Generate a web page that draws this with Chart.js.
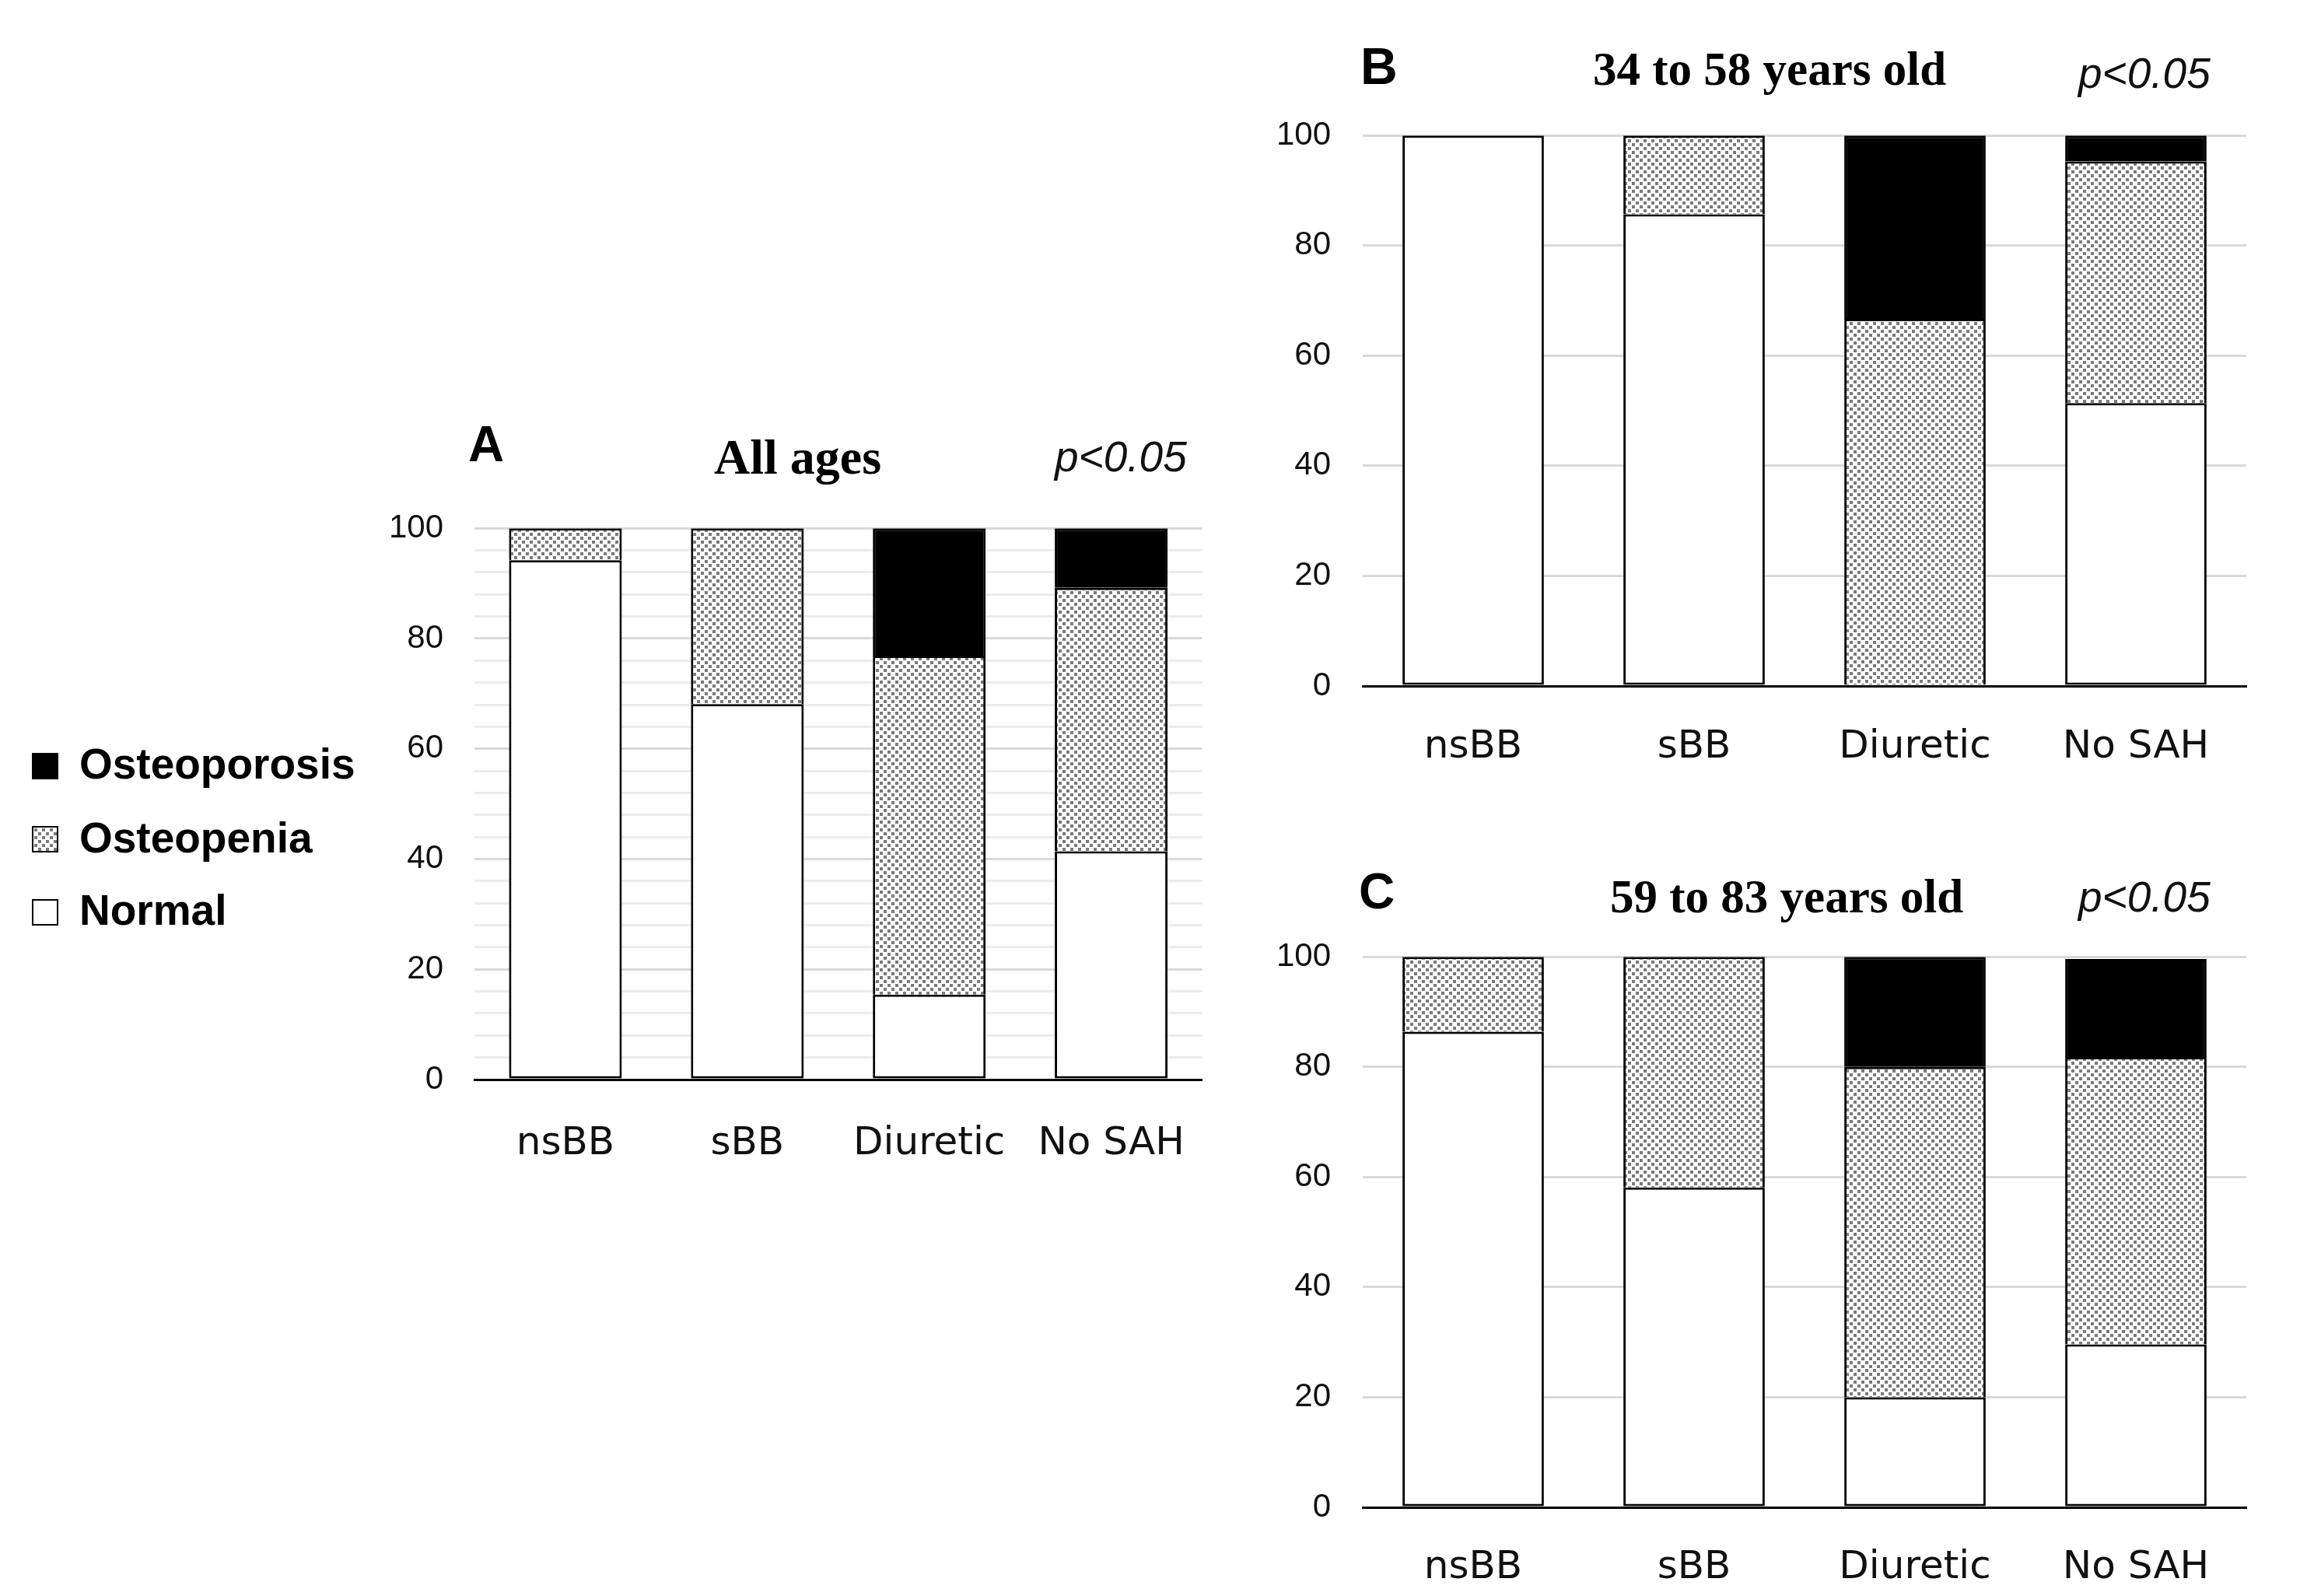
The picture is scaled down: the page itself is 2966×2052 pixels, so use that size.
<!DOCTYPE html>
<html>
<head>
<meta charset="utf-8">
<script src="https://cdn.jsdelivr.net/npm/chart.js@4.4.1/dist/chart.umd.min.js"></script>
<style>
  html, body { margin:0; padding:0; background:#fff; }
  body { width:2966px; height:2052px; position:relative; overflow:hidden; }
  canvas { position:absolute; }
  .t { position:absolute; white-space:nowrap; color:#000; line-height:1; }
  .letter { font-family:"Liberation Sans", Arial, sans-serif; font-weight:bold; }
  .title { font-family:"Liberation Serif", "Times New Roman", serif; font-weight:bold; }
  .pval { font-family:"Liberation Sans", Arial, sans-serif; font-style:italic; color:#111; }
  .leg { font-family:"Liberation Sans", Arial, sans-serif; font-weight:bold; font-size:55px; }
  .sw { position:absolute; width:34px; height:34px; box-sizing:border-box; border:2px solid #000; }
</style>
</head>
<body>
<!-- legend -->
<div class="sw" id="swOp" style="left:41px; top:968px; background:#000;"></div>
<div class="t leg" style="left:102px; top:955px;">Osteoporosis</div>
<div class="sw" id="swPen" style="left:41px; top:1062px;"></div>
<div class="t leg" style="left:102px; top:1050px;">Osteopenia</div>
<div class="sw" id="swNor" style="left:41px; top:1156px; background:#fff;"></div>
<div class="t leg" style="left:102px; top:1143px;">Normal</div>

<!-- panel texts -->
<div class="t letter" style="left:602px; top:539px; font-size:64px;">A</div>
<div class="t title" style="left:918px; top:556px; font-size:64px;">All ages</div>
<div class="t pval" style="left:1356px; top:560px; font-size:55px;">p&lt;0.05</div>

<div class="t letter" style="left:1749px; top:52px; font-size:66px;">B</div>
<div class="t title" style="left:2048px; top:58px; font-size:61px;">34 to 58 years old</div>
<div class="t pval" style="left:2672px; top:67px; font-size:55px;">p&lt;0.05</div>

<div class="t letter" style="left:1747px; top:1114px; font-size:64px;">C</div>
<div class="t title" style="left:2070px; top:1122px; font-size:61px;">59 to 83 years old</div>
<div class="t pval" style="left:2672px; top:1126px; font-size:55px;">p&lt;0.05</div>

<canvas id="cA" width="1117" height="884" style="left:460px; top:614px;"></canvas>
<canvas id="cB" width="1296" height="884" style="left:1602px; top:108px;"></canvas>
<canvas id="cC" width="1296" height="884" style="left:1602px; top:1164px;"></canvas>

<script>
// ---------------- DATA ----------------
const categories = ['nsBB', 'sBB', 'Diuretic', 'No SAH'];
const seriesNames = ['Normal', 'Osteopenia', 'Osteoporosis'];
const yTickLabels = [0, 20, 40, 60, 80, 100];

// Panel A: All ages
const normalA       = [94.2, 68.1, 15.4, 41.4];
const osteopeniaA   = [5.8, 31.9, 61.5, 47.8];
const osteoporosisA = [0, 0, 23.1, 10.8];

// Panel B: 34 to 58 years old
const normalB       = [100, 85.7, 0, 51.4];
const osteopeniaB   = [0, 14.3, 66.7, 43.9];
const osteoporosisB = [0, 0, 33.3, 4.7];

// Panel C: 59 to 83 years old
const normalC       = [86.4, 58.1, 20.0, 29.6];
const osteopeniaC   = [13.6, 41.9, 60.0, 52.2];
const osteoporosisC = [0, 0, 20.0, 17.8];

// ---------------- STYLE HELPERS ----------------
function makeDotTile() {
  const t = document.createElement('canvas');
  t.width = 10; t.height = 10;
  const g = t.getContext('2d');
  g.fillStyle = '#ffffff';
  g.fillRect(0, 0, 10, 10);
  g.fillStyle = '#7a7a7a';
  g.fillRect(1, 1, 4, 4);
  g.fillRect(6, 6, 4, 4);
  return t;
}
const dotTile = makeDotTile();
const dotPattern = document.createElement('canvas').getContext('2d').createPattern(dotTile, 'repeat');
document.getElementById('swPen').style.background = 'url(' + dotTile.toDataURL() + ') repeat';

function buildChart(id, normal, osteopenia, osteoporosis, cfg) {
  const sideBorder = {top: 3, left: 3, right: 3, bottom: 0};
  return new Chart(document.getElementById(id), {
    type: 'bar',
    data: {
      labels: categories,
      datasets: [
        { label: seriesNames[0], data: normal, backgroundColor: '#ffffff', borderColor: '#000000',
          borderWidth: 3, borderSkipped: false, stack: 's' },
        { label: seriesNames[1], data: osteopenia, backgroundColor: dotPattern, borderColor: '#000000',
          borderWidth: sideBorder, borderSkipped: false, stack: 's' },
        { label: seriesNames[2], data: osteoporosis, backgroundColor: '#000000', borderColor: '#000000',
          borderWidth: sideBorder, borderSkipped: false, stack: 's' }
      ]
    },
    options: {
      responsive: false,
      animation: false,
      events: [],
      layout: { padding: { top: 40, right: 10, left: 0, bottom: 0 } },
      datasets: { bar: { barPercentage: cfg.barPct, categoryPercentage: 1.0 } },
      plugins: {
        legend: { display: false },
        tooltip: { enabled: false }
      },
      scales: {
        x: {
          stacked: true,
          z: 1,
          grid: { display: false, drawTicks: false },
          border: { display: true, color: '#000000', width: 3, z: 1 },
          ticks: {
            color: '#111111',
            font: { family: 'DejaVu Sans', size: 50 },
            padding: cfg.xPad,
            autoSkip: false,
            maxRotation: 0
          },
          afterFit: s => { s.height = 110; }
        },
        y: {
          stacked: true,
          min: 0, max: 100,
          grid: {
            drawTicks: false,
            lineWidth: 3,
            color: c => (yTickLabels.includes(c.tick.value) ? cfg.majorGrid : cfg.minorGrid)
          },
          border: { display: false },
          ticks: {
            stepSize: cfg.step,
            autoSkip: false,
            color: '#111111',
            padding: cfg.yPad,
            font: { family: 'Liberation Sans', size: 42 },
            callback: v => (yTickLabels.includes(v) ? String(v) : '')
          },
          afterFit: s => { s.width = 150; }
        }
      }
    }
  });
}

buildChart('cA', normalA, osteopeniaA, osteoporosisA,
  { step: 4, xPad: 53, yPad: 40, barPct: 0.62, majorGrid: '#d9d9d9', minorGrid: '#ececec' });
buildChart('cB', normalB, osteopeniaB, osteoporosisB,
  { step: 20, xPad: 49, yPad: 41, barPct: 0.64, majorGrid: '#d9d9d9', minorGrid: '#d9d9d9' });
buildChart('cC', normalC, osteopeniaC, osteoporosisC,
  { step: 20, xPad: 48, yPad: 41, barPct: 0.64, majorGrid: '#d9d9d9', minorGrid: '#d9d9d9' });
</script>
</body>
</html>
